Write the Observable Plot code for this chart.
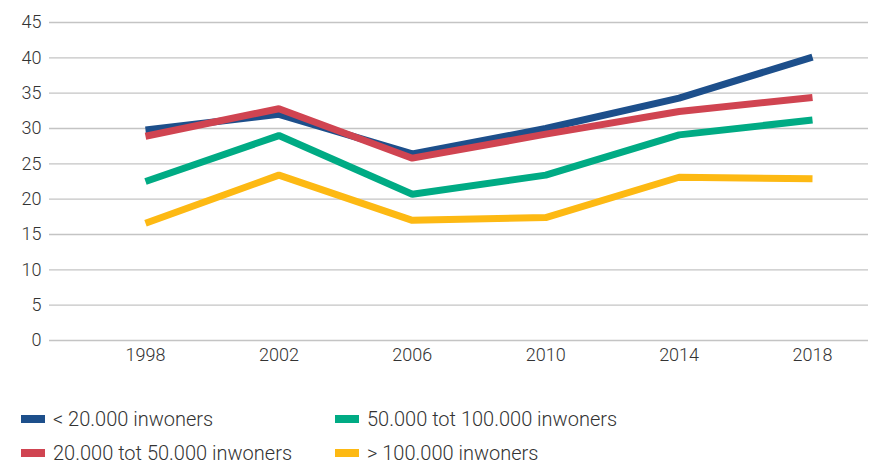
<!DOCTYPE html>
<html><head><meta charset="utf-8">
<script src="https://cdn.jsdelivr.net/npm/d3@7"></script>
<script src="https://cdn.jsdelivr.net/npm/@observablehq/plot@0.6"></script>
<style>
html,body{margin:0;padding:0;background:#fff;}
body{width:872px;height:463px;overflow:hidden;font-family:Roboto,"Noto Sans",sans-serif;}
#chart svg text{font-size:18px;font-weight:300;fill:#333;}
#legend{display:grid;grid-template-columns:314px 420px;row-gap:11px;margin-left:21px;margin-top:35px;font-size:20px;font-weight:300;color:#333;}
.item{display:flex;align-items:center;height:23px;white-space:nowrap;}
.sw{width:24px;height:8px;margin-right:8px;display:inline-block;}
</style></head><body>
<div id="chart"></div>
<div id="legend"></div>
<script>
const years = [1998, 2002, 2006, 2010, 2014, 2018];
const seriesNames = ["< 20.000 inwoners", "20.000 tot 50.000 inwoners", "50.000 tot 100.000 inwoners", "> 100.000 inwoners"];
const small = [29.8, 32.0, 26.4, 30.0, 34.3, 40.1];
const medium = [28.9, 32.8, 25.8, 29.2, 32.4, 34.4];
const large = [22.5, 29.0, 20.7, 23.4, 29.1, 31.2];
const xlarge = [16.6, 23.4, 17.0, 17.4, 23.1, 22.9];
const colors = ["#1d4f8b", "#d04451", "#00ab84", "#fdb913"];
const yTicks = [0, 5, 10, 15, 20, 25, 30, 35, 40, 45];
const legendOrder = [0, 2, 1, 3];

const valueSets = [small, medium, large, xlarge];
const data = [];
valueSets.forEach((vals, si) => vals.forEach((v, i) => data.push({year: years[i], value: v, series: seriesNames[si]})));

const chart = Plot.plot({
  width: 872,
  height: 372,
  marginTop: 22,
  marginBottom: 32,
  marginLeft: 49,
  marginRight: 4,
  style: {fontFamily: "Roboto, sans-serif", fontSize: "18px", color: "#333", background: "#fff"},
  x: {domain: [1998, 2018], insetLeft: 96, insetRight: 56, label: null},
  y: {domain: [0, 45], label: null},
  color: {domain: seriesNames, range: colors},
  marks: [
    Plot.ruleY(yTicks, {stroke: "#c4c4c4", strokeWidth: 1.3}),
    Plot.axisY({ticks: yTicks, tickSize: 0, tickPadding: 8, label: null}),
    Plot.axisX({ticks: years, tickFormat: d => String(d), tickSize: 0, tickPadding: 8, label: null}),
    Plot.line(data, {x: "year", y: "value", z: "series", stroke: "series", strokeWidth: 7, strokeLinejoin: "miter", strokeLinecap: "butt"})
  ]
});
document.getElementById("chart").appendChild(chart);

const legend = document.getElementById("legend");
legendOrder.forEach(i => {
  const d = document.createElement("div");
  d.className = "item";
  d.innerHTML = `<span class="sw" style="background:${colors[i]}"></span><span></span>`;
  d.lastChild.textContent = seriesNames[i];
  legend.appendChild(d);
});
</script>
</body></html>
